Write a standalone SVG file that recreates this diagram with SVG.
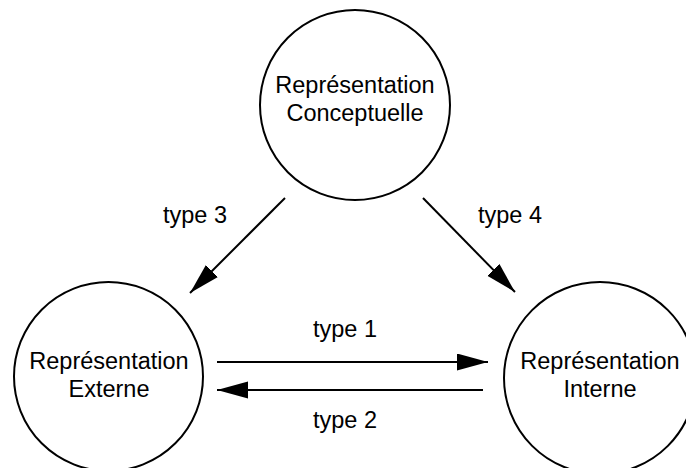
<svg xmlns="http://www.w3.org/2000/svg" width="686" height="468" viewBox="0 0 686 468">
<style>
.node{fill:#fff;stroke:#000;stroke-width:2}
.t{font-family:"Liberation Sans",Arial,sans-serif;font-size:23.5px;fill:#000;text-anchor:middle}
.c{stroke:#000;stroke-width:2;fill:none}
</style>
<defs>
<marker id="ah" markerUnits="userSpaceOnUse" markerWidth="32" markerHeight="18" refX="31" refY="8.5" orient="auto">
<path d="M0,0 L31,8.5 L0,17 Z" fill="#000"/>
</marker>
</defs>
<rect width="686" height="468" fill="#fff"/>
<g id="concept">
<circle class="node" cx="355" cy="105" r="95"/>
<text class="t" x="355" y="93">Représentation</text>
<text class="t" x="355" y="121">Conceptuelle</text>
</g>
<g id="externe">
<circle class="node" cx="108.5" cy="376.5" r="94.5"/>
<text class="t" x="109" y="369">Représentation</text>
<text class="t" x="109" y="397">Externe</text>
</g>
<g id="interne">
<circle class="node" cx="600" cy="378" r="96"/>
<text class="t" x="600" y="369">Représentation</text>
<text class="t" x="600" y="397">Interne</text>
</g>
<g id="connectors">
<line class="c" x1="285" y1="198" x2="190" y2="293" marker-end="url(#ah)"/>
<line class="c" x1="423" y1="198" x2="515" y2="292" marker-end="url(#ah)"/>
<line class="c" x1="217" y1="362" x2="488" y2="362" marker-end="url(#ah)"/>
<line class="c" x1="483" y1="390" x2="217" y2="390" marker-end="url(#ah)"/>
<text class="t" x="195" y="223">type 3</text>
<text class="t" x="510" y="223">type 4</text>
<text class="t" x="345" y="337">type 1</text>
<text class="t" x="345" y="428">type 2</text>
</g>
</svg>
